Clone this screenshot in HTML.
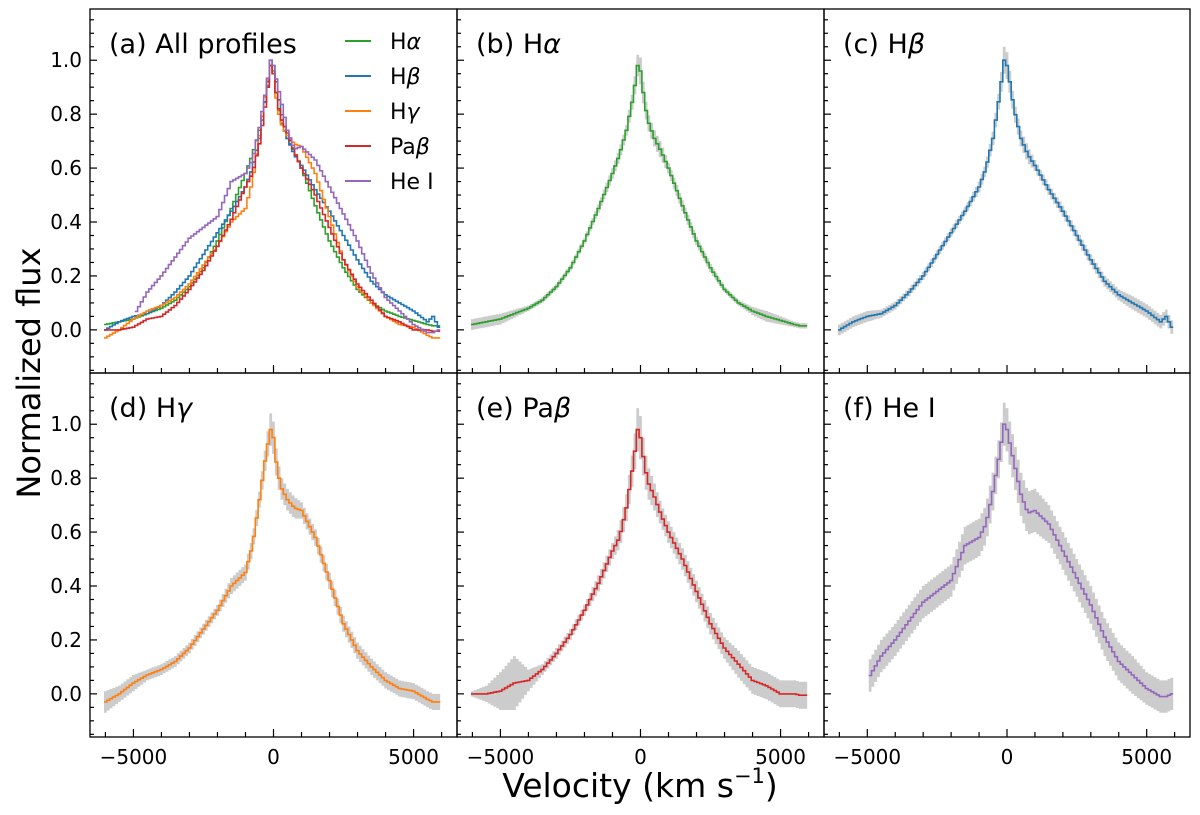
<!DOCTYPE html>
<html><head><meta charset="utf-8">
<style>
html,body{margin:0;padding:0;background:#fff;}
svg{display:block;font-family:"DejaVu Sans","Liberation Sans",sans-serif;}
</style></head>
<body>
<svg id="fig" width="1200" height="815" viewBox="0 0 1200 815">
<text x="640" y="797" font-size="33" text-anchor="middle">Velocity (km s<tspan font-size="21" dy="-14">−1</tspan><tspan dy="14">)</tspan></text>
<text transform="translate(40,373) rotate(-90)" font-size="32" text-anchor="middle">Normalized flux</text>
</svg>
<script>
// ---- data ----
const vGrid = [-6000,-5500,-5000,-4500,-4000,-3500,-3000,-2500,-2000,-1500,-1000,-750,-500,-250,-100,0,100,250,500,750,1000,1500,2000,2500,3000,3500,4000,4500,5000,5500,5700,5900];
const fluxHa  = [0.02,0.03,0.04,0.06,0.08,0.11,0.16,0.23,0.33,0.45,0.58,0.65,0.74,0.87,0.98,0.96,0.88,0.78,0.71,0.66,0.60,0.46,0.33,0.23,0.15,0.10,0.07,0.05,0.035,0.02,0.015,0.015];
const fluxHb  = [0.00,0.03,0.05,0.06,0.09,0.14,0.20,0.28,0.36,0.44,0.53,0.60,0.71,0.88,1.00,0.98,0.92,0.82,0.71,0.65,0.61,0.52,0.44,0.35,0.26,0.18,0.13,0.10,0.07,0.03,0.05,0.01];
const fluxHg  = [-0.03,0.00,0.04,0.07,0.09,0.12,0.17,0.24,0.31,0.40,0.45,0.55,0.72,0.90,0.98,0.95,0.86,0.77,0.72,0.69,0.68,0.58,0.42,0.26,0.16,0.10,0.05,0.02,0.01,-0.02,-0.03,-0.03];
const fluxPab = [0.00,0.00,0.01,0.04,0.05,0.09,0.15,0.22,0.31,0.41,0.53,0.58,0.69,0.86,0.98,0.95,0.88,0.79,0.73,0.66,0.60,0.50,0.38,0.26,0.17,0.11,0.05,0.03,0.00,0.00,-0.005,-0.005];
const fluxHe  = [null,null,0.05,0.14,0.20,0.27,0.34,0.38,0.42,0.55,0.58,0.63,0.75,0.90,1.00,0.98,0.93,0.86,0.74,0.67,0.68,0.63,0.53,0.43,0.33,0.21,0.12,0.07,0.02,-0.01,-0.01,0.00];
const errHa  = [0.02,0.02,0.02,0.015,0.01,0.01,0.01,0.01,0.01,0.015,0.02,0.02,0.02,0.03,0.04,0.05,0.04,0.03,0.03,0.03,0.02,0.02,0.015,0.015,0.01,0.01,0.015,0.02,0.015,0.01,0.01,0.01];
const errHb  = [0.02,0.02,0.02,0.015,0.015,0.015,0.015,0.015,0.015,0.015,0.02,0.02,0.025,0.03,0.05,0.05,0.04,0.03,0.03,0.03,0.02,0.02,0.02,0.02,0.02,0.02,0.02,0.025,0.025,0.025,0.025,0.025];
const errHg  = [0.04,0.03,0.03,0.02,0.02,0.02,0.02,0.02,0.02,0.03,0.03,0.03,0.03,0.04,0.06,0.06,0.05,0.04,0.04,0.04,0.03,0.03,0.03,0.03,0.03,0.03,0.03,0.03,0.03,0.03,0.03,0.03];
const errPab = [0.01,0.03,0.07,0.1,0.04,0.02,0.02,0.02,0.02,0.03,0.03,0.04,0.05,0.06,0.08,0.08,0.07,0.06,0.05,0.04,0.04,0.04,0.04,0.04,0.04,0.05,0.05,0.05,0.05,0.05,0.05,0.05];
const errHe  = [null,null,0.06,0.06,0.06,0.06,0.06,0.06,0.06,0.07,0.07,0.07,0.07,0.07,0.08,0.08,0.08,0.08,0.08,0.08,0.08,0.07,0.07,0.07,0.07,0.07,0.07,0.07,0.06,0.06,0.06,0.06];
const seriesNames = ["Hα","Hβ","Hγ","Paβ","He I"];
const colors = ["#2ca02c","#1f77b4","#ff7f0e","#d62728","#9467bd"];
const fluxes = [fluxHa,fluxHb,fluxHg,fluxPab,fluxHe];
const errs = [errHa,errHb,errHg,errPab,errHe];
const yTicks = [0.0,0.2,0.4,0.6,0.8,1.0];
const xTicks = [-5000,0,5000];

const NS="http://www.w3.org/2000/svg";
const svg=document.getElementById('fig');
function mk(tag,attrs,parent){const e=document.createElementNS(NS,tag);for(const k in attrs)e.setAttribute(k,attrs[k]);(parent||svg).appendChild(e);return e;}
function richText(el,str){
  // italicize greek letters
  for(const ch of str){
    const t=document.createElementNS(NS,'tspan');
    if(/[αβγ]/.test(ch)) t.setAttribute('font-style','italic');
    t.textContent=ch; el.appendChild(t);
  }
}

const colX=[90,457,824], colW=[367,367,366];
const rowY=[9,373], rowH=364;
const XMIN=-6550,XMAX=6550,YMIN=-0.16,YMAX=1.19;

function interp(f,v){
  for(let i=0;i<vGrid.length-1;i++){
    if(v>=vGrid[i]&&v<=vGrid[i+1]){
      const a=f[i],b=f[i+1]; if(a===null||b===null) return null;
      const t=(v-vGrid[i])/(vGrid[i+1]-vGrid[i]); return a+(b-a)*t;
    }
  }
  return null;
}

function panel(ci,ri,label,idxs,showBand,showYLabels){
  const x0=colX[ci],y0=rowY[ri],w=colW[ci],h=rowH;
  const sx=v=>x0+(v-XMIN)/(XMAX-XMIN)*w;
  const sy=f=>y0+h-(f-YMIN)/(YMAX-YMIN)*h;
  const g=mk('g',{});
  
  
  const step=100;
  idxs.forEach(si=>{
    const f=fluxes[si],e=errs[si];
    const pts=[],up=[],lo=[];
    for(let v=vGrid[0];v<=vGrid[vGrid.length-1];v+=step){
      const y=interp(f,v); if(y===null) continue;
      const ee=interp(e,v)||0;
      const xa=sx(v-step/2),xb=sx(v+step/2);
      pts.push([xa,sy(y)],[xb,sy(y)]);
      up.push([xa,sy(y+ee)],[xb,sy(y+ee)]);
      lo.push([xa,sy(y-ee)],[xb,sy(y-ee)]);
    }
    if(showBand){
      const poly=up.concat(lo.reverse());
      const b=mk('polygon',{points:poly.map(p=>p[0].toFixed(1)+','+p[1].toFixed(1)).join(' '),fill:'#cccccc',stroke:'none'},g);
      
      
    }
    const l=mk('polyline',{points:pts.map(p=>p[0].toFixed(1)+','+p[1].toFixed(1)).join(' '),fill:'none',stroke:colors[si],'stroke-width':1.6},g);
    
    
  });
  const fr=mk('rect',{x:x0,y:y0,width:w,height:h,fill:'none',stroke:'#000','stroke-width':1.3},g);
  
  
  for(let k=-3;k<=23;k++){
    const f=k*0.05; if(f<YMIN||f>YMAX) continue;
    const major=Math.abs(f*5-Math.round(f*5))<1e-6;
    mk('line',{x1:x0,x2:x0+(major?7:4),y1:sy(f),y2:sy(f),stroke:'#000','stroke-width':1.2},g);
  }
  if(showYLabels){
    yTicks.forEach(t=>{
      const tx=mk('text',{x:x0-8,y:sy(t)+7,'font-size':20,'text-anchor':'end'},g);
      tx.textContent=t.toFixed(1);
      
      
    });
  }
  for(let v=-6000;v<=6000;v+=1000){
    const major=v%5000===0;
    mk('line',{x1:sx(v),x2:sx(v),y1:y0+h,y2:y0+h-(major?8:5),stroke:'#000','stroke-width':1.2},g);
  }
  if(ri===1){
    xTicks.forEach(t=>{
      const tx=mk('text',{x:sx(t),y:y0+h+27,'font-size':20,'text-anchor':'middle'},g);
      tx.textContent=t<0?'−'+Math.abs(t):String(t);
      
      
    });
  }
  const lb=mk('text',{x:x0+19,y:y0+44,'font-size':27},g);
  richText(lb,label);
  
  
  return g;
}

panel(0,0,'(a) All profiles',[0,1,2,3,4],false,true);
panel(1,0,'(b) Hα',[0],true,false);
panel(2,0,'(c) Hβ',[1],true,false);
panel(0,1,'(d) Hγ',[2],true,true);
panel(1,1,'(e) Paβ',[3],true,false);
panel(2,1,'(f) He I',[4],true,false);

const lg=mk('g',{});


seriesNames.forEach((n,i)=>{
  const y=41+i*35;
  const ln=mk('line',{x1:345,x2:371,y1:y,y2:y,stroke:colors[i],'stroke-width':2},lg);
  
  
  const t=mk('text',{x:390,y:y+8,'font-size':22},lg);
  richText(t,n);
  
  
});
</script>
</body></html>
